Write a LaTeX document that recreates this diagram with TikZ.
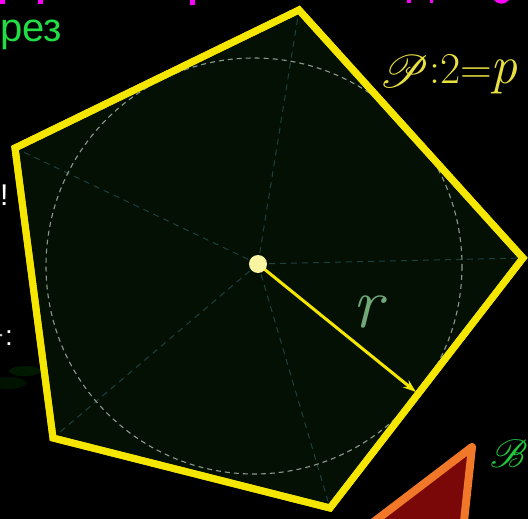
\documentclass[tikz,border=0pt]{standalone}
\usepackage{fontspec}
\usepackage{mathrsfs}
\newfontfamily\arialf{Liberation Sans}
\usetikzlibrary{arrows.meta}
\definecolor{pyellow}{HTML}{F5E600}
\definecolor{pfill}{HTML}{041004}
\definecolor{spoke}{HTML}{1E4040}
\definecolor{circ}{HTML}{8A9A8A}
\definecolor{rcol}{HTML}{70A878}
\definecolor{greent}{HTML}{22DD44}
\definecolor{magent}{HTML}{FF00FF}
\definecolor{orangeb}{HTML}{F07828}
\definecolor{darkred}{HTML}{7A0808}
\definecolor{dotc}{HTML}{F8F4A0}
\definecolor{ptext}{HTML}{E8E040}
\tikzset{
  spokeline/.style={draw=spoke, dashed, line width=1pt, dash pattern=on 6pt off 5pt},
  edgeline/.style={draw=pyellow, line width=7pt, fill=pfill},
  magmark/.style={fill=magent, draw=none},
}
\begin{document}
\begin{tikzpicture}[x=1pt,y=-1pt]
\useasboundingbox (0,0) rectangle (528,519);
\clip (0,0) rectangle (528,519);
\fill[black] (0,0) rectangle (528,519);
% magenta fragments of cut-off text at the top
\fill[magmark] (0,0) rectangle (5,4);
\fill[magmark] (38,0) rectangle (43,4);
\fill[magmark] (190,0) rectangle (195,5);
\fill[magmark] (407,0) rectangle (411,3);
\fill[magmark] (430,0) rectangle (433,3);
\fill[magmark] (494,0) .. controls (498,5) and (505,5) .. (509,0) -- cycle;
% left fragments
\node[anchor=base west, text=greent, font=\arialf\fontsize{40}{40}\selectfont, inner sep=0pt] (rez) at (0,42) {рез};
\node[anchor=base west, text=white, font=\arialf\fontsize{30}{30}\selectfont, inner sep=0pt] (excl) at (0,205) {!};
\node[anchor=base west, text=white, font=\arialf\fontsize{28}{28}\selectfont, inner sep=0pt] (colon) at (5,345) {:};
\fill[white!80!black] (1,335) circle (1.5);
\fill[green!20!black, opacity=0.5] (25,371) ellipse (16 and 5);
\fill[green!15!black, opacity=0.5] (8,383) ellipse (18 and 6);
% orange triangle
\draw[draw=orangeb, fill=darkred, line width=8pt, line join=round] (472,447) -- (350,540) -- (462,540) -- cycle;
\node[anchor=base west, text=greent!90!black, font=\fontsize{20}{20}\selectfont, inner sep=0pt] (bB) at (490,467) {\scalebox{1.9}{$\mathscr{B}$}};
% pentagon
\coordinate (T) at (299,10);
\coordinate (R) at (523,258);
\coordinate (BR) at (330,508);
\coordinate (BL) at (53,438);
\coordinate (TL) at (15,148);
\coordinate (O) at (258,264);
\draw[edgeline] (T) -- (R) -- (BR) -- (BL) -- (TL) -- cycle;
\foreach \v in {T,R,BR,BL,TL} \draw[spokeline] (O) -- (\v);
\draw[draw=circ, dashed, line width=1.1pt, dash pattern=on 5pt off 4pt] (254,266) circle (208);
\draw[edgeline, fill=none] (T) -- (R) -- (BR) -- (BL) -- (TL) -- cycle;
% radius
\coordinate (E) at (416,392);
\draw[draw=pyellow, line width=3pt, -{Stealth[length=13pt,width=9pt]}] (O) -- (E);
\fill[dotc] (O) circle (9);
\node[text=rcol, font=\fontsize{72}{72}\selectfont\itshape, inner sep=0pt] (rlab) at (367,312) {r};
% formula top right
\node[anchor=base west, text=ptext, font=\fontsize{44}{44}\selectfont, inner sep=0pt] (form) at (379,84) {{\fontsize{20}{20}\selectfont\raisebox{-4pt}{\scalebox{2.2}{$\mathscr{P}$}}}:2=\kern-1pt{\fontsize{54}{54}\selectfont\itshape p}};
\end{tikzpicture}
\end{document}
